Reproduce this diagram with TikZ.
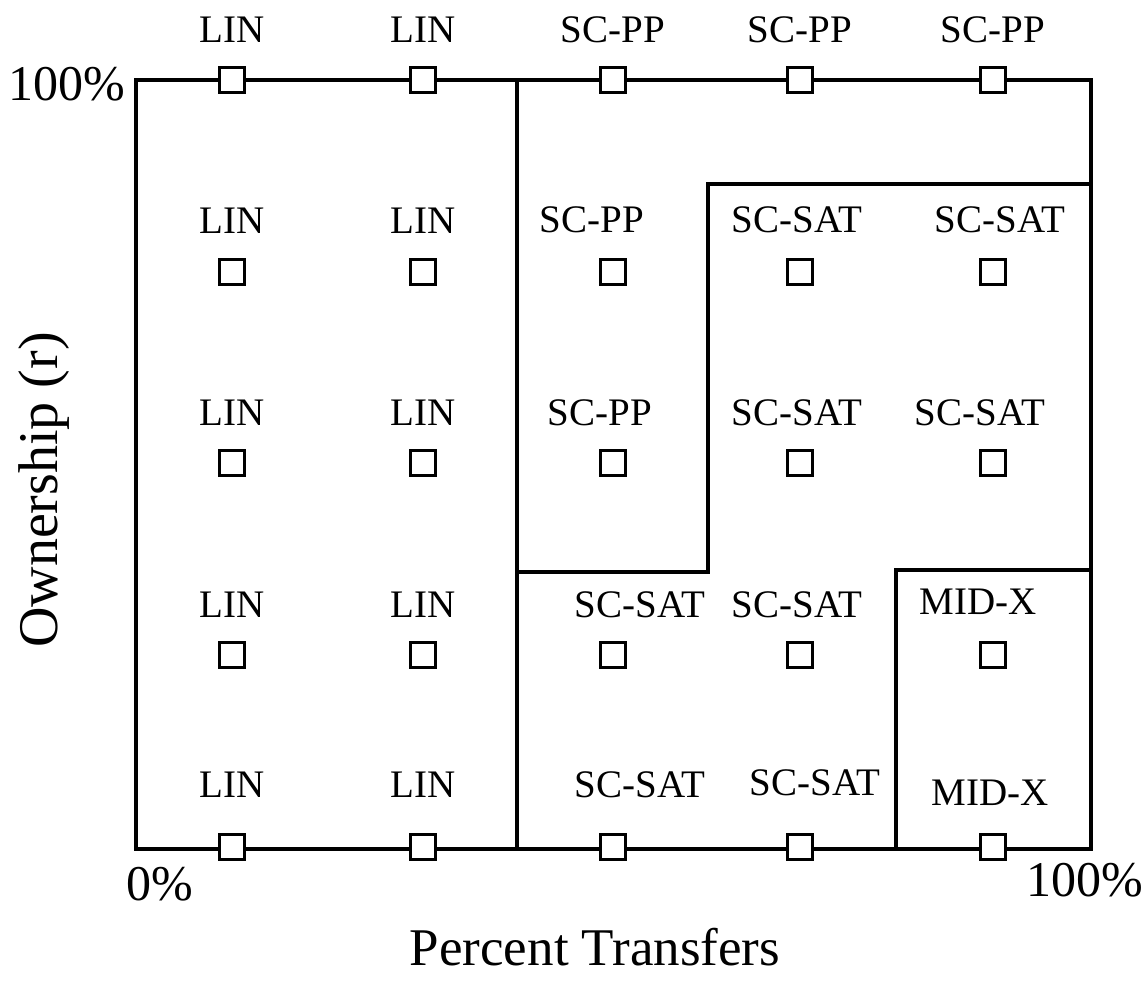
\documentclass[tikz,border=0pt]{standalone}
\usepackage{fontspec}
\setmainfont{Liberation Serif}
\begin{document}
\begin{tikzpicture}[x=0.5pt,y=-0.5pt,
  bound/.style={line width=1.6pt, line join=miter},
  pt/.style={draw, fill=white, line width=1.4pt, minimum size=12.5pt, inner sep=0pt},
  lab/.style={font=\fontsize{19.5}{22}\selectfont, inner sep=0pt},
  axis/.style={font=\fontsize{25}{28}\selectfont, inner sep=0pt},
  xtitle/.style={font=\fontsize{26.5}{30}\selectfont, inner sep=0pt},
  ytitle/.style={font=\fontsize{28}{31}\selectfont, inner sep=0pt}]
\useasboundingbox (0,0) rectangle (1145,990);
% region boundaries
\coordinate (TL) at (136,80);
\coordinate (TR) at (1091,80);
\coordinate (BL) at (136,849);
\coordinate (BR) at (1091,849);
\coordinate (Vt) at (517,80);
\coordinate (Vb) at (517,849);
\coordinate (S1) at (517,572);
\coordinate (S2) at (708,572);
\coordinate (S3) at (708,184);
\coordinate (S4) at (1091,184);
\coordinate (M1) at (896,849);
\coordinate (M2) at (896,570);
\coordinate (M3) at (1091,570);
\draw[bound] (TL) -- (TR) -- (BR) -- (BL) -- cycle;
\draw[bound] (Vt) -- (Vb);
\draw[bound] (S1) -- (S2) -- (S3) -- (S4);
\draw[bound] (M1) -- (M2) -- (M3);
% sample points
\foreach \c/\x in {0/232,1/423,2/613,3/800,4/993}{
  \foreach \r/\y in {0/80,1/272,2/463,3/655,4/847}{
    \node[pt] (p\r\c) at (\x,\y) {};
  }
}
% labels row 0
\node[lab] (l00) at (232,30) {LIN};
\node[lab] (l01) at (423,30) {LIN};
\node[lab] (l02) at (613,30) {SC-PP};
\node[lab] (l03) at (800,30) {SC-PP};
\node[lab] (l04) at (993,30) {SC-PP};
% row 1
\node[lab] (l10) at (232,221) {LIN};
\node[lab] (l11) at (423,221) {LIN};
\node[lab] (l12) at (592,220) {SC-PP};
\node[lab] (l13) at (797,220) {SC-SAT};
\node[lab] (l14) at (1000,220) {SC-SAT};
% row 2
\node[lab] (l20) at (232,413) {LIN};
\node[lab] (l21) at (423,413) {LIN};
\node[lab] (l22) at (600,413) {SC-PP};
\node[lab] (l23) at (797,413) {SC-SAT};
\node[lab] (l24) at (980,413) {SC-SAT};
% row 3
\node[lab] (l30) at (232,605) {LIN};
\node[lab] (l31) at (423,605) {LIN};
\node[lab] (l32) at (640,605) {SC-SAT};
\node[lab] (l33) at (797,605) {SC-SAT};
\node[lab] (l34) at (978,602) {MID-X};
% row 4
\node[lab] (l40) at (232,785) {LIN};
\node[lab] (l41) at (423,785) {LIN};
\node[lab] (l42) at (640,785) {SC-SAT};
\node[lab] (l43) at (815,783) {SC-SAT};
\node[lab] (l44) at (990,793) {MID-X};
% axes
\node[axis] (ytop) at (67,84) {100\%};
\node[axis] (x0) at (160,884) {0\%};
\node[axis] (x100) at (1085,880) {100\%};
\node[xtitle] (xt) at (595,947) {Percent Transfers};
\node[ytitle, rotate=90] (yt) at (44,490) {Ownership (r)};
\end{tikzpicture}
\end{document}
